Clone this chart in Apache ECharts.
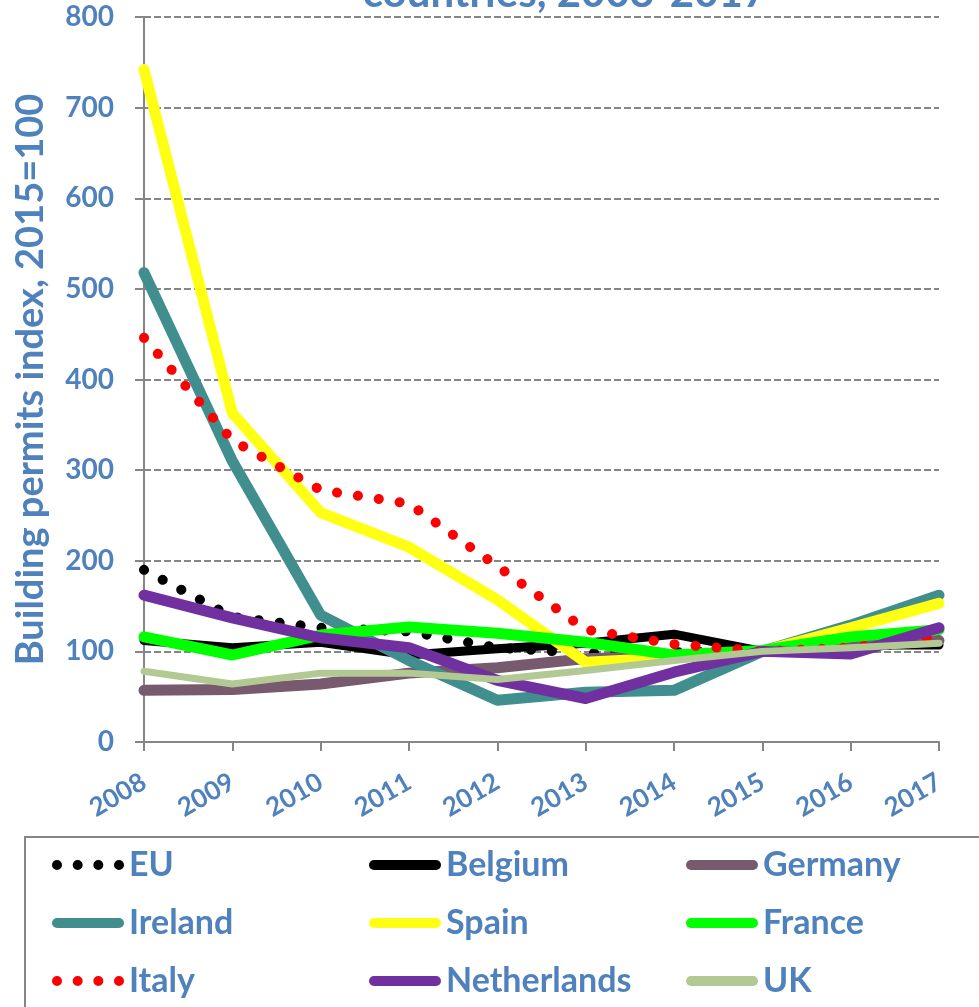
<!DOCTYPE html>
<html><head><meta charset="utf-8">
<script src="https://cdn.jsdelivr.net/npm/echarts@6/dist/echarts.min.js"></script>
<style>html,body{margin:0;padding:0;background:#fff}#c{width:979px;height:1007px}</style>
</head><body><div id="c"></div>
<script>
const years = ['2008','2009','2010','2011','2012','2013','2014','2015','2016','2017'];
const yTicks = [0,100,200,300,400,500,600,700,800];
const EU          = [190, 138, 126, 122, 104, 98, 99, 100, 105, 110];
const Belgium     = [112, 104, 110, 96, 103, 109, 119, 100, 107, 107];
const Germany     = [57, 58, 64, 76, 82, 92, 95, 100, 106, 112];
const Ireland     = [518, 310, 140, 90, 46, 55, 57, 100, 129, 162];
const Spain       = [742, 363, 253, 215, 157, 88, 93, 100, 126, 153];
const France      = [116, 96, 118, 127, 120, 110, 96, 101, 116, 124];
const Italy       = [446, 333, 278, 263, 194, 124, 108, 100, 104, 116];
const Netherlands = [162, 137, 115, 104, 68, 48, 77, 100, 97, 126];
const UK          = [78, 64, 76, 76, 69, 79, 90, 100, 104, 109];

const blue = '#4F81BD';
const font = 'Lato';
const gray = '#868686';

const pillIcon = 'path://M5,0 H67 A5,5 0 0 1 67,10 H5 A5,5 0 0 1 5,0 Z';
const dotIcon = 'path://' + [0, 20.67, 41.33, 62].map(x =>
  `M${x},5 A5,5 0 1 0 ${x+10},5 A5,5 0 1 0 ${x},5 Z`).join(' ');

const defs = [
  {name:'EU', data:EU, color:'#000000', width:10, dotted:true},
  {name:'Belgium', data:Belgium, color:'#000000', width:9},
  {name:'Germany', data:Germany, color:'#775A6E', width:11},
  {name:'Ireland', data:Ireland, color:'#418E8F', width:11},
  {name:'Spain', data:Spain, color:'#FFFF14', width:11},
  {name:'France', data:France, color:'#00FF00', width:11},
  {name:'Italy', data:Italy, color:'#FF0000', width:10, dotted:true},
  {name:'Netherlands', data:Netherlands, color:'#7030A0', width:11},
  {name:'UK', data:UK, color:'#B3C994', width:7}
];

const series = defs.map(d => ({
  name: d.name, type: 'line', data: d.data, symbol: 'none', showSymbol: false,
  itemStyle: {color: d.color},
  lineStyle: {color: d.color, width: d.width, type: d.dotted ? [0.1, 21] : 'solid', cap: 'round', join: 'round'},
  animation: false
}));

function legendItems(names) {
  return names.map(n => {
    const d = defs.find(x => x.name === n);
    return {name: n, icon: d.dotted ? dotIcon : pillIcon};
  });
}

const legendCommon = {
  orient: 'vertical', top: 845, height: 160, padding: 0, itemWidth: 72, itemHeight: 10, itemGap: 18,
  itemStyle: {borderWidth: 0},
  textStyle: {fontFamily: font, fontWeight: 'bold', fontSize: 34, color: blue, lineHeight: 40},
  selectedMode: false
};

const chart = echarts.init(document.getElementById('c'), null, {renderer: 'canvas'});
chart.setOption({
  backgroundColor: '#fff',
  animation: false,
  title: {text: 'countries, 2008-2017', left: 560, top: -33, textAlign: 'center',
    textStyle: {fontFamily: font, fontWeight: 'bold', fontSize: 42, color: blue}},
  grid: {left: 144, right: 40, top: 17, bottom: 265},
  xAxis: {
    type: 'category', data: years, boundaryGap: false,
    axisLine: {lineStyle: {color: gray, width: 2}},
    axisTick: {show: true, length: 9, lineStyle: {color: gray, width: 2}, alignWithLabel: true},
    axisLabel: {rotate: 30, fontFamily: font, fontWeight: 'bold', fontSize: 26, color: blue, margin: 38, interval: 0},
    splitLine: {show: false}
  },
  yAxis: {
    type: 'value', min: yTicks[0], max: yTicks[yTicks.length-1], interval: 100,
    name: 'Building permits index, 2015=100', nameLocation: 'middle', nameGap: 94,
    nameTextStyle: {fontFamily: font, fontWeight: 'bold', fontSize: 38, color: blue},
    axisLine: {show: true, lineStyle: {color: gray, width: 2}},
    axisTick: {show: true, length: 9, lineStyle: {color: gray, width: 2}},
    axisLabel: {fontFamily: font, fontWeight: 'bold', fontSize: 28, color: blue, margin: 30,
      formatter: v => yTicks.includes(v) ? String(v) : ''},
    splitLine: {show: true, lineStyle: {color: gray, width: 2, type: [7, 3]}}
  },
  legend: [
    Object.assign({left: 52, data: legendItems(['EU','Ireland','Italy'])}, legendCommon),
    Object.assign({left: 369, data: legendItems(['Belgium','Spain','Netherlands'])}, legendCommon),
    Object.assign({left: 686, data: legendItems(['Germany','France','UK'])}, legendCommon)
  ],
  graphic: [{type: 'rect', shape: {x: 25, y: 837, width: 960, height: 200},
    style: {fill: 'none', stroke: gray, lineWidth: 2}, silent: true}],
  series: series
});
</script></body></html>
